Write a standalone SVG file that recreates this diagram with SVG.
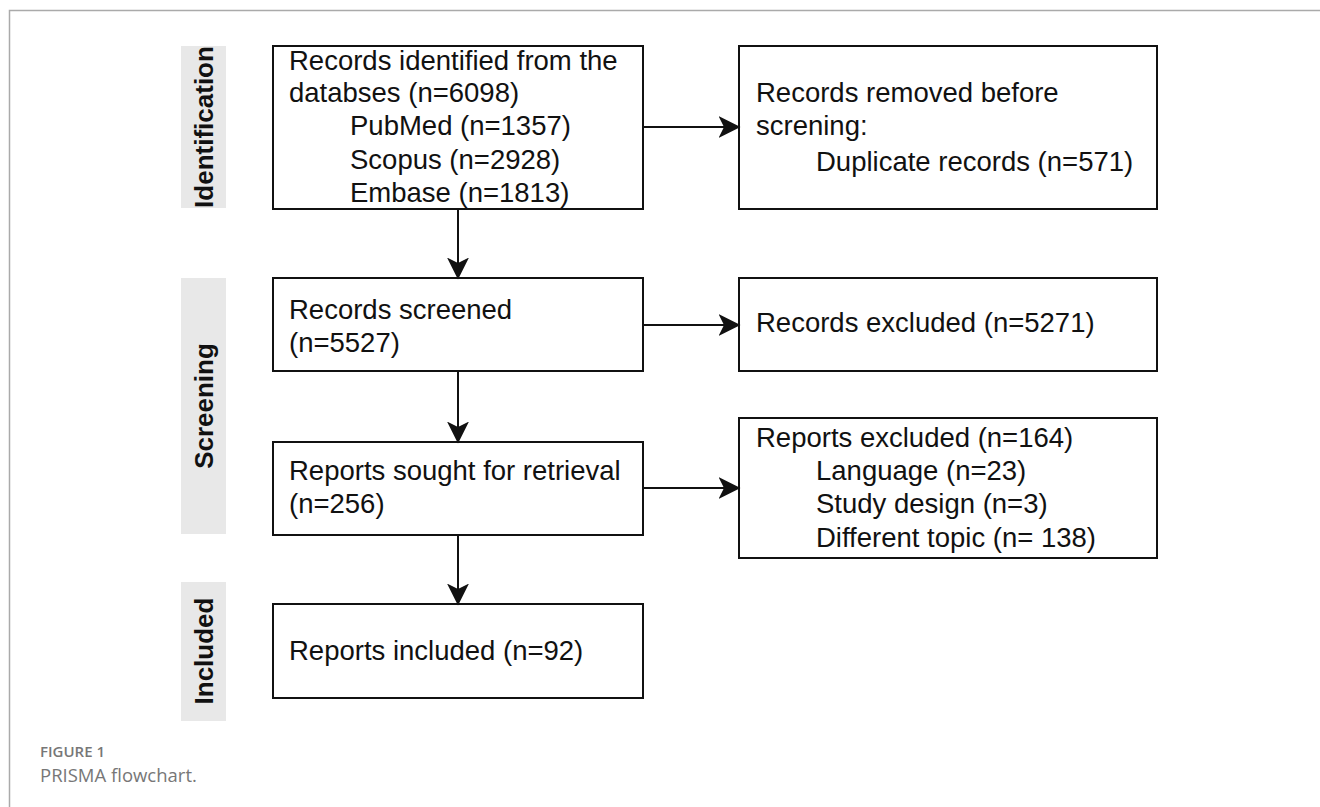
<svg xmlns="http://www.w3.org/2000/svg" width="1320" height="807" viewBox="0 0 1320 807">
<style>
.box{fill:#fff;stroke:#111;stroke-width:2}
.lab{fill:#e8e8e8}
.t{font-family:"Liberation Sans",Arial,Helvetica,sans-serif;font-size:27.5px;fill:#111}
.lt{font-family:"Liberation Sans",Arial,Helvetica,sans-serif;font-size:26px;font-weight:bold;fill:#111}
.conn{stroke:#111;stroke-width:2;fill:none}
.cap1{font-family:"Open Sans","Noto Sans",sans-serif;font-size:15px;font-weight:600;fill:#777}
.cap2{font-family:"Open Sans","Noto Sans",sans-serif;font-size:18.5px;fill:#777}
</style>
<defs>
<marker id="arr" markerUnits="userSpaceOnUse" markerWidth="22" markerHeight="22" refX="5" refY="10" orient="auto" viewBox="0 0 20 20">
<path d="M0,0 L20,10 L0,20 L5,10 Z" fill="#111"/>
</marker>
</defs>
<rect width="1320" height="807" fill="#fff"/>
<path d="M9.5,807 V10.5 H1320" stroke="#aaa" stroke-width="1.5" fill="none"/>

<g id="label-identification">
<rect class="lab" x="181" y="46" width="45" height="162"/>
<text class="lt" transform="translate(213,127) rotate(-90)" text-anchor="middle">Identification</text>
</g>
<g id="label-screening">
<rect class="lab" x="181" y="278" width="45" height="256"/>
<text class="lt" transform="translate(213,406) rotate(-90)" text-anchor="middle">Screening</text>
</g>
<g id="label-included">
<rect class="lab" x="181" y="582" width="45" height="139"/>
<text class="lt" transform="translate(213,651) rotate(-90)" text-anchor="middle">Included</text>
</g>

<g id="node-identified">
<rect class="box" x="273" y="46" width="370" height="163"/>
<text class="t" x="289" y="70">Records identified from the</text>
<text class="t" x="289" y="102">databses (n=6098)</text>
<text class="t" x="350" y="135">PubMed (n=1357)</text>
<text class="t" x="350" y="168.5">Scopus (n=2928)</text>
<text class="t" x="350" y="201.5">Embase (n=1813)</text>
</g>
<g id="node-removed">
<rect class="box" x="739" y="46" width="418" height="163"/>
<text class="t" x="756" y="102">Records removed before</text>
<text class="t" x="756" y="135">screning:</text>
<text class="t" x="816" y="171">Duplicate records (n=571)</text>
</g>
<g id="node-screened">
<rect class="box" x="273" y="278" width="370" height="93"/>
<text class="t" x="289" y="318.5">Records screened</text>
<text class="t" x="289" y="351.5">(n=5527)</text>
</g>
<g id="node-excluded">
<rect class="box" x="739" y="278" width="418" height="93"/>
<text class="t" x="756" y="332">Records excluded (n=5271)</text>
</g>
<g id="node-sought">
<rect class="box" x="273" y="442" width="370" height="93"/>
<text class="t" x="289" y="480">Reports sought for retrieval</text>
<text class="t" x="289" y="513">(n=256)</text>
</g>
<g id="node-reports-excluded">
<rect class="box" x="739" y="418" width="418" height="140"/>
<text class="t" x="756" y="447">Reports excluded (n=164)</text>
<text class="t" x="816" y="480">Language (n=23)</text>
<text class="t" x="816" y="513">Study design (n=3)</text>
<text class="t" x="816" y="546.5">Different topic (n= 138)</text>
</g>
<g id="node-included">
<rect class="box" x="273" y="604" width="370" height="94"/>
<text class="t" x="289" y="660">Reports included (n=92)</text>
</g>

<g id="connectors">
<path class="conn" d="M643,127 H724" marker-end="url(#arr)"/>
<path class="conn" d="M458,209 V263" marker-end="url(#arr)"/>
<path class="conn" d="M643,325 H724" marker-end="url(#arr)"/>
<path class="conn" d="M458,371 V427" marker-end="url(#arr)"/>
<path class="conn" d="M643,488 H724" marker-end="url(#arr)"/>
<path class="conn" d="M458,535 V589" marker-end="url(#arr)"/>
</g>

<text class="cap1" x="40" y="757">FIGURE 1</text>
<text class="cap2" x="40" y="782">PRISMA flowchart.</text>
</svg>
